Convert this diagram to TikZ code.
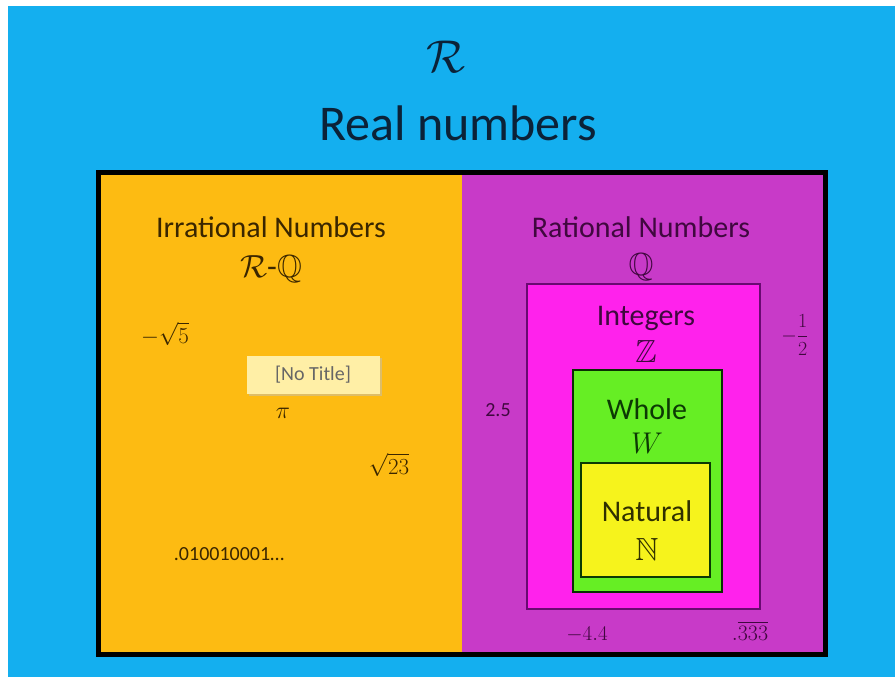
\documentclass[tikz,border=0pt]{standalone}
\usepackage{fix-cm}
\usepackage{amsmath}
\usepackage{amssymb}
\usepackage{fontspec}
\setmainfont{Carlito}
\newcommand\setfs[1]{\fontsize{#1}{#1}\selectfont}
\definecolor{bgblue}{HTML}{14AFEF}
\definecolor{orangec}{HTML}{FDBB12}
\definecolor{purplec}{HTML}{C83AC8}
\definecolor{magentac}{HTML}{FF22EC}
\definecolor{greenc}{HTML}{66EE24}
\definecolor{yellowc}{HTML}{F6F31C}
\definecolor{titlec}{HTML}{0B2238}
\definecolor{irrc}{HTML}{3A2600}
\definecolor{ratc}{HTML}{40083F}
\definecolor{intborder}{HTML}{6A0A72}
\definecolor{wholec}{HTML}{0C3A04}
\definecolor{natc}{HTML}{303000}
\definecolor{notitle}{HTML}{FFEFA6}
\tikzset{
  lbl/.style={inner sep=0pt, anchor=base},
  region/.style={line width=2.5pt},
}
\begin{document}
\begin{tikzpicture}[x=1pt,y=-1pt]
\useasboundingbox (0,0) rectangle (895,677);
\fill[white] (0,0) rectangle (895,677);
\fill[bgblue] (8,6) rectangle (895,677);
% title
\node[lbl, text=titlec, font=\setfs{46}] (rsym) at (446,73) {$\mathcal{R}$};
\node[lbl, text=titlec, font=\setfs{50}] (real) at (458,140) {Real numbers};
% main frame
\fill[orangec] (98.5,172.5) rectangle (462,654.5);
\fill[purplec] (462,172.5) rectangle (825.5,654.5);
\draw[line width=5pt, black] (98.5,172.5) rectangle (825.5,654.5);
% nested sets
\draw[region, fill=magentac, draw=intborder] (527,284) rectangle (760,609);
\draw[region, fill=greenc, draw=wholec!80!black] (573,370) rectangle (722,592);
\draw[region, fill=yellowc, draw=wholec] (581,463) rectangle (710,577);
% irrational side
\node[lbl, text=irrc, font=\setfs{30}] (irr) at (271,237) {Irrational Numbers};
\node[lbl, text=irrc, font=\setfs{32}] (rq) at (271,277) {$\mathcal{R}$-$\mathbb{Q}$};
\node[lbl, text=irrc, font=\setfs{23}] (sq5) at (165,343) {$-\sqrt{5}$};
\fill[black!25, opacity=0.5] (249,358) rectangle (382,396);
\node[fill=notitle, text=black!60, minimum width=133, minimum height=38, inner sep=0pt, font=\setfs{20}] (nt) at (313,375) {[No Title]};
\node[lbl, text=irrc, font=\setfs{24}] (pi) at (283,418) {$\pi$};
\node[lbl, text=irrc, font=\setfs{23}] (sq23) at (389,474) {$\sqrt{23}$};
\node[lbl, text=irrc, font=\setfs{20}] (dec) at (229,560) {.010010001\ldots};
% rational side
\node[lbl, text=ratc, font=\setfs{30}] (rat) at (641,237) {Rational Numbers};
\node[lbl, text=ratc, font=\setfs{32}] (q) at (641,275) {$\mathbb{Q}$};
\node[lbl, text=ratc, font=\setfs{30}] (int) at (646,325) {Integers};
\node[lbl, text=ratc, font=\setfs{32}] (z) at (646,362) {$\mathbb{Z}$};
\node[lbl, text=wholec, font=\setfs{30}] (whole) at (647,419) {Whole};
\node[lbl, text=wholec, font=\setfs{30}] (w) at (647,453) {$W$};
\node[lbl, text=natc, font=\setfs{30}] (nat) at (647,521) {Natural};
\node[lbl, text=natc, font=\setfs{32}] (n) at (647,560) {$\mathbb{N}$};
\node[text=ratc, inner sep=0pt, font=\setfs{20}] (half) at (795,335) {$-\dfrac{1}{2}$};
\node[lbl, text=ratc, font=\setfs{20}] (two5) at (498,416) {2.5};
\node[lbl, text=ratc, font=\setfs{21}] (m44) at (587,640) {$-4.4$};
\node[lbl, text=ratc, font=\setfs{22}] (p333) at (750,640) {$.\overline{333}$};
\end{tikzpicture}
\end{document}
